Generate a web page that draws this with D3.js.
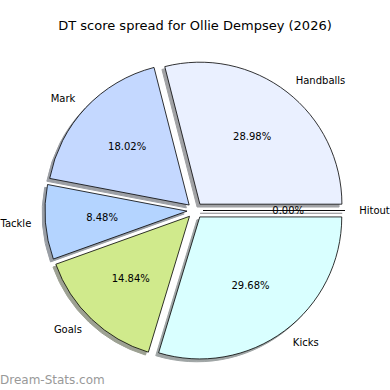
<!DOCTYPE html>
<head>
  <title>DT score spread</title>
  <meta charset="utf-8">
  <script type="text/javascript" src="https://cdn.jsdelivr.net/npm/d3@7/dist/d3.min.js"></script>
  <style>
body { margin: 0; background: #fff; }
text { font-family: "DejaVu Sans", sans-serif; }
  </style>
</head>
<body>
</body>
<script>
var categories = ["Handballs", "Mark", "Tackle", "Goals", "Kicks", "Hitout"]
var values = [28.98, 18.02, 8.48, 14.84, 29.68, 0.00]
var colors = ["#eaf0ff", "#c4d8ff", "#b4d4ff", "#d0ea8c", "#d9ffff", "#e8e8ff"]
var title = "DT score spread for Ollie Dempsey (2026)"

var width = 390, height = 390
var cx = 195, cy = 210.5, r = 142
var explode = 8
var shadowOff = 0.02 * r

var svg = d3.select("body").append("svg").attr("width", width).attr("height", height)

svg.append("text").text(title).attr("x", width/2).attr("y", 25.5).attr("text-anchor", "middle")
  .attr("dominant-baseline", "central").attr("font-size", "13px").attr("fill", "#000")

// matplotlib style: start at 3 o'clock, counterclockwise
var pie = d3.pie().sort(null).value(d => d).startAngle(Math.PI/2).endAngle(Math.PI/2 - 2*Math.PI)
var arcs = pie(values)
var arc = d3.arc().innerRadius(0).outerRadius(r)

function off(d, dist) {
  var mid = (d.startAngle + d.endAngle) / 2
  return [Math.sin(mid) * dist, -Math.cos(mid) * dist]
}
function shade(i) {
  var c = d3.rgb(colors[i])
  return d3.rgb(c.r*0.3, c.g*0.3, c.b*0.3).formatHex()
}

var g = svg.append("g").attr("transform", "translate(" + cx + "," + cy + ")")

// shadows first, then wedges on top
g.selectAll(".shadow").data(arcs).enter().append("path").attr("class", "shadow")
  .attr("d", arc)
  .attr("transform", function(d) { var o = off(d, explode); return "translate(" + (o[0] - shadowOff) + "," + (o[1] + shadowOff) + ")" })
  .attr("fill", (d, i) => shade(i))
  .attr("stroke", (d, i) => shade(i))
  .attr("stroke-width", 1)
  .attr("opacity", 0.5)

g.selectAll(".wedge").data(arcs).enter().append("path").attr("class", "wedge")
  .attr("d", arc)
  .attr("transform", function(d) { var o = off(d, explode); return "translate(" + o[0] + "," + o[1] + ")" })
  .attr("fill", (d, i) => colors[i])
  .attr("stroke", "#000").attr("stroke-width", 0.8)

// category labels at 1.1 r
g.selectAll(".lab").data(arcs).enter().append("text").attr("class", "lab")
  .text((d, i) => categories[i])
  .attr("x", function(d) { return off(d, explode + 1.1*r)[0] })
  .attr("y", function(d) { return off(d, explode + 1.1*r)[1] })
  .attr("text-anchor", function(d) { return off(d, 1)[0] > 0 ? "start" : "end" })
  .attr("dominant-baseline", "central").attr("font-size", "10px").attr("fill", "#000")

// percentages at 0.6 r
g.selectAll(".pct").data(arcs).enter().append("text").attr("class", "pct")
  .text(d => d.value.toFixed(2) + "%")
  .attr("x", function(d) { return off(d, explode + 0.6*r)[0] })
  .attr("y", function(d) { return off(d, explode + 0.6*r)[1] })
  .attr("text-anchor", "middle")
  .attr("dominant-baseline", "central").attr("font-size", "10px").attr("fill", "#000")

svg.append("text").text("Dream-Stats.com").attr("x", 0).attr("y", 380)
  .attr("dominant-baseline", "central").attr("font-size", "12px").attr("fill", "#999")
</script>
